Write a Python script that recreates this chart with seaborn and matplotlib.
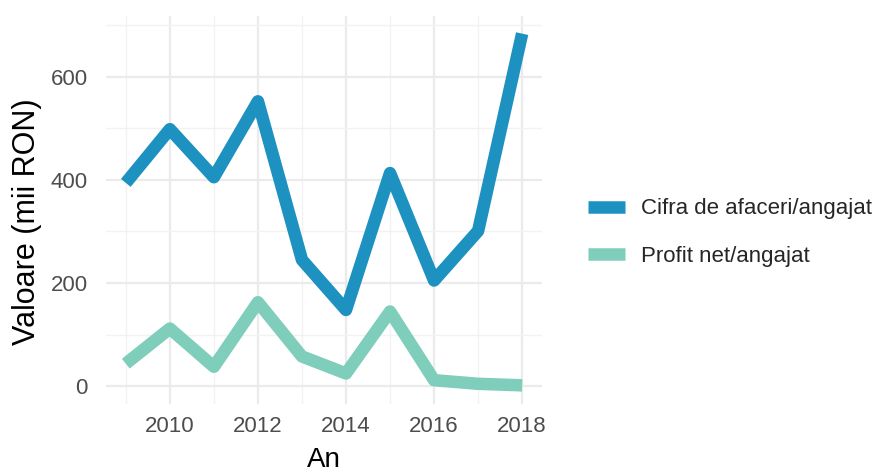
import pandas as pd
import numpy as np
import matplotlib.pyplot as plt
import seaborn as sns
from matplotlib.ticker import MultipleLocator

# values (mii RON)
ani = [2009, 2010, 2011, 2012, 2013, 2014, 2015, 2016, 2017, 2018]
cifra_afaceri = [394, 498, 405, 552, 245, 148, 413, 205, 301, 683]
profit_net = [44, 112, 38, 163, 58, 25, 145, 12, 5, 2]
serii = ["Cifra de afaceri/angajat", "Profit net/angajat"]
culori = ["#1d91c0", "#7fcdbb"]

df = pd.DataFrame({
    "An": ani * 2,
    "Valoare": cifra_afaceri + profit_net,
    "Serie": [serii[0]] * len(ani) + [serii[1]] * len(ani),
})

sns.set_theme(style="white")
plt.rcParams['font.family'] = ['Liberation Sans', 'DejaVu Sans']

fig = plt.figure(figsize=(8.87, 4.73), dpi=100)
ax = fig.add_axes([0.1195, 0.146, 0.4915, 0.820])

sns.lineplot(data=df, x="An", y="Valoare", hue="Serie", palette=culori,
             linewidth=9, ax=ax, legend=False)
for ln in ax.lines:
    ln.set_solid_joinstyle("round")
    ln.set_solid_capstyle("butt")

ax.set_xlim(2008.55, 2018.45)
ax.set_ylim(-34, 717)
ax.xaxis.set_major_locator(MultipleLocator(2))
ax.xaxis.set_minor_locator(MultipleLocator(1))
ax.yaxis.set_major_locator(MultipleLocator(200))
ax.yaxis.set_minor_locator(MultipleLocator(100))
ax.grid(which="major", color="#ebebeb", linewidth=1.6)
ax.grid(which="minor", color="#f2f2f2", linewidth=1.0)
ax.set_axisbelow(True)
for s in ax.spines.values():
    s.set_visible(False)
ax.tick_params(which="both", length=0, labelsize=16, labelcolor="#4d4d4d")
ax.tick_params(axis="x", pad=9)
ax.tick_params(axis="y", pad=13)

ax.set_xlabel("An", fontsize=20, color="black", labelpad=7)
ax.set_ylabel("Valoare (mii RON)", fontsize=22, color="black")
ax.yaxis.set_label_coords(-0.147, 0.47)

handles = [plt.Line2D([], [], color=c, linewidth=9, solid_capstyle="butt") for c in culori]
fig.legend(handles, serii, loc="center left", bbox_to_anchor=(0.640, 0.508),
           frameon=False, fontsize=16, handlelength=1.67, handletextpad=0.72,
           labelspacing=1.2)

fig.savefig("out.png", dpi=100)
